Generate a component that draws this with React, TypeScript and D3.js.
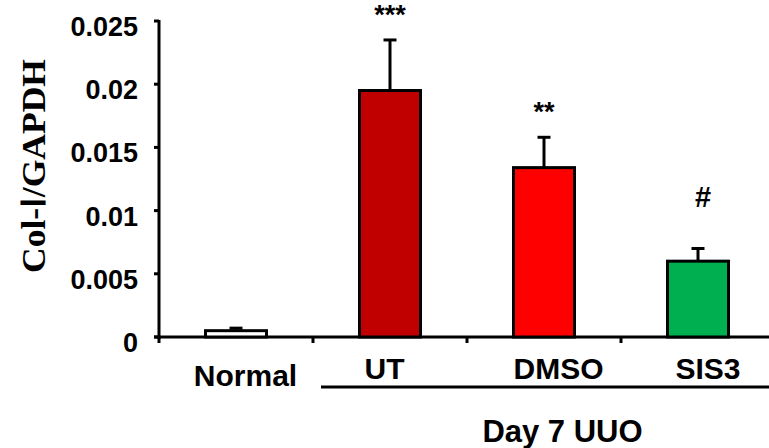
import React from "react";
import * as d3 from "d3";

const categories = ["Normal", "UT", "DMSO", "SIS3"];
const means = [0.0005, 0.0195, 0.0134, 0.006];
const errors = [0.0002, 0.004, 0.0024, 0.001];
const colors = ["#ffffff", "#c00000", "#ff0000", "#00b050"];
const marks = ["", "***", "**", "#"];
const yTicks = [0, 0.005, 0.01, 0.015, 0.02, 0.025];
const yTickLabels = ["0", "0.005", "0.01", "0.015", "0.02", "0.025"];

export default function App() {
  const W = 769, H = 448;
  const y = d3.scaleLinear().domain([0, 0.025]).range([337, 21]);
  const x = d3.scaleBand().domain(categories).range([159, 775]).paddingInner(0).paddingOuter(0);
  const bw = 61;
  const sans = "'Liberation Sans', Arial, sans-serif";
  const serif = "'Liberation Serif', 'Times New Roman', serif";
  const boundaries = [...categories.map((c) => x(c) as number), 775];
  const labelY = [386, 379, 379, 379];
  const labelDx = [9.5, -5.5, 14.5, 10];
  return (
    <svg width={W} height={H} style={{ position: "absolute", left: 0, top: 0, background: "#fff" }}>
      {/* y axis */}
      <line x1={159} x2={159} y1={y(0.025) - 1} y2={y(0) + 2} stroke="#000" strokeWidth={3} />
      {yTicks.map((t, i) => (
        <g key={i}>
          <line x1={154} x2={159} y1={y(t)} y2={y(t)} stroke="#000" strokeWidth={3} />
          <text x={138} y={y(t) + 15} textAnchor="end" fontFamily={sans} fontWeight="bold" fontSize={27}>
            {yTickLabels[i]}
          </text>
        </g>
      ))}
      {/* x axis */}
      <line x1={154} x2={769} y1={y(0)} y2={y(0)} stroke="#000" strokeWidth={3} />
      {boundaries.map((b, i) => (
        <line key={i} x1={b} x2={b} y1={y(0)} y2={y(0) + 6} stroke="#000" strokeWidth={3} />
      ))}
      {/* bars */}
      {categories.map((c, i) => {
        const cx = (x(c) as number) + x.bandwidth() / 2;
        return (
          <g key={c}>
            <line x1={cx} x2={cx} y1={y(means[i])} y2={y(means[i] + errors[i])} stroke="#000" strokeWidth={3} />
            <line x1={cx - 6.5} x2={cx + 6.5} y1={y(means[i] + errors[i])} y2={y(means[i] + errors[i])} stroke="#000" strokeWidth={3} />
            <rect x={cx - bw / 2} y={y(means[i])} width={bw} height={y(0) - y(means[i])} fill={colors[i]} stroke="#000" strokeWidth={3} />
            {marks[i] && (
              <text x={cx + (i === 3 ? 5 : 0)} y={y(means[i] + errors[i]) - (i === 3 ? 42 : i === 2 ? 16 : 16)} textAnchor="middle" fontFamily={sans} fontWeight="bold" fontSize={i === 3 ? 29 : 27}>
                {marks[i]}
              </text>
            )}
            <text x={cx + labelDx[i]} y={labelY[i]} textAnchor="middle" fontFamily={sans} fontWeight="bold" fontSize={30}>
              {c}
            </text>
          </g>
        );
      })}
      {/* group underline */}
      <line x1={321} x2={769} y1={387} y2={387} stroke="#000" strokeWidth={3} />
      <text x={562.5} y={442} textAnchor="middle" fontFamily={sans} fontWeight="bold" fontSize={31}>
        Day 7 UUO
      </text>
      {/* y title */}
      <text transform={`translate(45,166) rotate(-90)`} textAnchor="middle" fontFamily={serif} fontWeight="bold" fontSize={33} textLength={214} lengthAdjust="spacingAndGlyphs">
        Col-Ⅰ/GAPDH
      </text>
    </svg>
  );
}
